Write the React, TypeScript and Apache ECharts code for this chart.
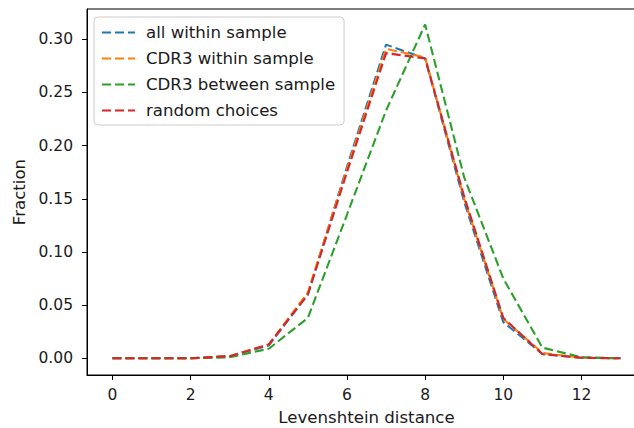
import React, { useEffect, useRef } from "react";
import * as echarts from "echarts";

const distances = [0, 1, 2, 3, 4, 5, 6, 7, 8, 9, 10, 11, 12, 13];
const allWithin = [0, 0, 0, 0.002, 0.012, 0.06, 0.18, 0.295, 0.282, 0.147, 0.034, 0.004, 0.0005, 0];
const cdr3Within = [0, 0, 0, 0.002, 0.013, 0.062, 0.178, 0.291, 0.283, 0.15, 0.037, 0.005, 0.0005, 0];
const cdr3Between = [0, 0, 0, 0.001, 0.009, 0.038, 0.135, 0.233, 0.314, 0.17, 0.075, 0.01, 0.001, 0];
const randomChoices = [0, 0, 0, 0.002, 0.013, 0.06, 0.175, 0.287, 0.282, 0.152, 0.038, 0.004, 0.0005, 0];
const seriesNames = ["all within sample", "CDR3 within sample", "CDR3 between sample", "random choices"];
const colors = ["#1f77b4", "#ff7f0e", "#2ca02c", "#d62728"];
const xTicks = [0, 2, 4, 6, 8, 10, 12];
const yTicks = [0, 0.05, 0.1, 0.15, 0.2, 0.25, 0.3];

const FONT = "'DejaVu Sans', sans-serif";

export default function App() {
  const ref = useRef<HTMLDivElement>(null);
  useEffect(() => {
    if (!ref.current) return;
    const chart = echarts.init(ref.current, undefined, { renderer: "svg" });
    const data = [allWithin, cdr3Within, cdr3Between, randomChoices];
    chart.setOption({
      animation: false,
      grid: {
        left: 87,
        top: 9,
        width: 559,
        height: 366,
        outerBoundsMode: "none",
        containLabel: false,
        show: true,
        borderColor: "#000",
        borderWidth: 1,
        backgroundColor: "transparent",
      },
      legend: {
        left: 94,
        top: 17,
        orient: "vertical",
        itemWidth: 33,
        itemHeight: 16,
        itemGap: 9,
        padding: [7, 9, 6, 7],
        backgroundColor: "rgba(255,255,255,0.8)",
        borderColor: "#cccccc",
        borderWidth: 1,
        borderRadius: 4,
        itemStyle: { opacity: 0 },
        textStyle: { fontFamily: FONT, fontSize: 16.6, color: "#1a1a1a", padding: [0, 0, 0, 6] },
        data: seriesNames,
      },
      xAxis: {
        type: "value",
        min: -0.65,
        max: 13.65,
        name: "Levenshtein distance",
        nameLocation: "middle",
        nameGap: 34,
        nameTextStyle: { fontFamily: FONT, fontSize: 16.6, color: "#1a1a1a" },
        axisLine: { show: true, onZero: false, lineStyle: { color: "#000", width: 1 } },
        axisTick: { show: true, length: 5, lineStyle: { color: "#000" }, customValues: xTicks },
        axisLabel: {
          fontFamily: FONT,
          fontSize: 15.5,
          color: "#1a1a1a",
          margin: 12,
          customValues: xTicks,
          formatter: (v: number) => String(v),
        },
        splitLine: { show: false },
      },
      yAxis: {
        type: "value",
        min: -0.0157,
        max: 0.3285,
        name: "Fraction",
        nameLocation: "middle",
        nameGap: 56,
        nameTextStyle: { fontFamily: FONT, fontSize: 16.6, color: "#1a1a1a" },
        axisLine: { show: true, onZero: false, lineStyle: { color: "#000", width: 1 } },
        axisTick: { show: true, length: 5, lineStyle: { color: "#000" }, customValues: yTicks },
        axisLabel: {
          fontFamily: FONT,
          fontSize: 15.5,
          color: "#1a1a1a",
          margin: 14,
          customValues: yTicks,
          formatter: (v: number) => v.toFixed(2),
        },
        splitLine: { show: false },
      },
      series: seriesNames.map((name, i) => ({
        name,
        type: "line",
        symbol: "none",
        showSymbol: false,
        color: colors[i],
        lineStyle: { color: colors[i], width: 2.1, type: [9, 4] },
        data: distances.map((d, j) => [d, data[i][j]]),
      })),
    });
    return () => chart.dispose();
  }, []);
  return (
    <div
      ref={ref}
      style={{ position: "fixed", left: 0, top: 0, width: 660, height: 428, background: "#fff" }}
    />
  );
}
